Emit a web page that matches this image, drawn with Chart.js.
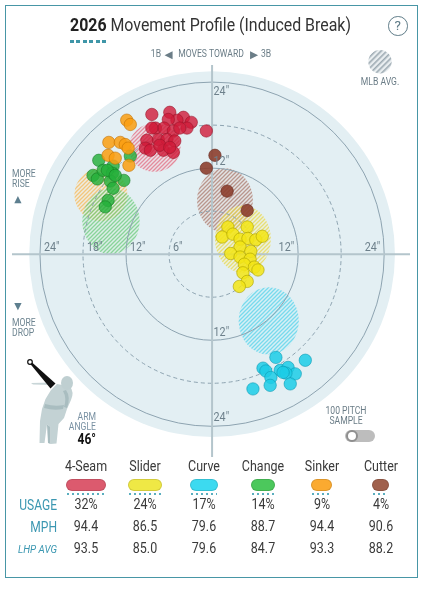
<!DOCTYPE html>
<html><head><meta charset="utf-8">
<script src="https://cdn.jsdelivr.net/npm/chart.js@4.4.1/dist/chart.umd.min.js"></script>
<style>
html,body{margin:0;padding:0;background:#fff;}
#wrap{position:relative;width:432px;height:600px;overflow:hidden;font-family:Roboto,"Noto Sans",sans-serif;}
#chartBox{position:absolute;left:0;top:0;width:432px;height:600px;}
.frame{position:absolute;left:4.5px;top:4.5px;width:413px;height:573px;border:1.5px solid #4896a6;box-sizing:border-box;}
.t{position:absolute;white-space:nowrap;}
.pill{position:absolute;height:12.5px;border-radius:7px;box-sizing:border-box;border:1px solid rgba(0,0,0,0.12);}
.dots{position:absolute;height:2px;background:repeating-linear-gradient(to right,#5aaebf 0 2px,transparent 2px 5px);}
</style></head><body>
<div id="wrap">
  <div id="chartBox"><canvas id="cv"></canvas></div>
  <svg style="position:absolute;left:0;top:350px;width:120px;height:100px" viewBox="0 350 120 100">
    <path d="M31,383 L53,382.5 L52,385 L33,384.5 Z" fill="#c9d6d8"/>
    <path d="M57,384 L70,386.5 Q74.5,392 71,400 L67,409 L64,418 L58.5,424 L56.5,443.5 L50.5,444 L50.5,427 L47,424.5 L44.5,443 L39.5,443 L40,421 L42,409 L45.5,399 L51,390 Z" fill="#c3d2d4"/>
    <path d="M45,404 Q55,407 64,405 L63,409 Q54,411 44,408 Z" fill="#a9bdc0"/>
    <path d="M66,390 Q71,397 67,408 L64,407 Q67,398 63,391 Z" fill="#a9bdc0"/>
    <path d="M47,424.5 L50.5,427 L50.5,444 L48,443 Z" fill="#a9bdc0"/>
    <ellipse cx="67" cy="383" rx="6" ry="7" fill="#bfcfd1"/>
    <path d="M29.3,362.7 L30.7,361.3 L55.5,383.6 L50.5,388.4 Z" fill="#111"/>
    <circle cx="30" cy="362" r="2.3" fill="#fff" stroke="#111" stroke-width="1.2"/>
  </svg>
  <svg style="position:absolute;left:366px;top:48px;width:28px;height:28px" viewBox="0 0 28 28">
    <defs><pattern id="mlbp" width="4" height="4" patternUnits="userSpaceOnUse" patternTransform="rotate(45)">
      <rect width="4" height="4" fill="#e9eef0"/><rect width="1.6" height="4" fill="#9eabb3"/></pattern></defs>
    <circle cx="14" cy="13.7" r="11.7" fill="url(#mlbp)"/>
  </svg>
  <div class="frame"></div>
  <div id="overlay"></div>
</div>
<script>
// ---------- data ----------
const pitchNames = ['4-Seam','Slider','Curve','Change','Sinker','Cutter'];
const usagePct   = [32, 24, 17, 14, 9, 4];
const mphValues  = [94.4, 86.5, 79.6, 88.7, 94.4, 90.6];
const lhpAvgMph  = [93.5, 85.0, 79.6, 84.7, 93.3, 88.2];
const pillColors = ['#dc5a6e','#efe845','#3cdaf0','#4cc85c','#fbaa30','#a0604c'];

// pitch locations (horizontal break, induced vertical break), inches
const fourSeamH = [-8.4,-5.9,-4.0,-2.9,-4.9,-6.1,-7.9,-6.7,-5.4,-3.5,-4.5,-0.8,-7.5,-6.3,-5.2,-9.1,-9.3,-8.6,-6.8,-5.4,-8.4,-7.3,-5.9];
const fourSeamV = [19.5,19.8,19.1,18.4,18.7,18.8,17.6,17.6,17.2,17.6,17.6,17.2,16.0,16.0,15.8,15.9,14.8,14.5,14.5,14.2,17.6,15.2,14.9];
const sliderH = [2.2,4.9,1.4,2.9,3.9,5.0,6.1,7.0,3.9,5.4,2.6,3.9,5.3,4.5,5.9,6.4,4.3,4.9,3.8];
const sliderV = [3.8,3.8,2.4,2.8,2.1,2.2,2.0,2.5,1.0,0.4,0.1,-0.4,-0.7,-1.4,-1.8,-2.2,-2.6,-3.8,-4.5];
const curveH = [8.9,13.0,7.1,7.5,9.5,10.6,11.6,10.3,8.2,8.1,10.9,5.7,9.9];
const curveV = [-14.4,-14.8,-15.9,-16.3,-16.2,-15.8,-16.7,-16.6,-17.2,-18.3,-18.1,-18.8,-16.5];
const changeH = [-15.8,-13.8,-11.4,-16.6,-16.0,-15.2,-13.9,-14.2,-12.3,-13.8,-14.5,-14.9,-14.6,-13.5];
const changeV = [13.1,12.3,13.7,11.0,10.5,11.7,11.3,10.2,10.3,9.2,7.5,6.6,11.7,11.0];
const sinkerH = [-11.9,-11.4,-14.4,-12.8,-12.1,-11.7,-14.5,-13.5,-11.6];
const sinkerV = [18.7,18.1,15.6,15.6,15.3,14.8,13.8,13.4,12.4];
const cutterH = [0.4,-0.8,2.1,4.9];
const cutterV = [13.8,12.0,8.8,6.1];

// MLB average movement (center and spread, inches) per pitch type
const mlbAvgH  = [-8.0, 4.3, 7.9, -14.1, -15.5, 1.8];
const mlbAvgV  = [14.9, 2.1, -9.3, 4.6, 8.3, 7.5];
const mlbSprH  = [3.6, 3.9, 4.2, 4.0, 3.7, 3.9];
const mlbSprV  = [3.4, 4.7, 4.7, 4.6, 3.7, 4.5];

const ringInches  = [6, 12, 18, 24];
const diskInches  = 25.5;
const tickLeft    = [24, 18, 12, 6];
const tickRight   = [12, 24];
const tickTop     = [24, 12];
const tickBottom  = [12, 24];

// ---------- styles ----------
const dotFill = ['rgba(208,26,56,0.8)','rgba(243,229,22,0.86)','rgba(28,204,230,0.85)','rgba(36,176,58,0.82)','rgba(250,158,18,0.86)','rgba(140,62,45,0.9)'];
const dotLine = ['rgba(150,20,40,0.55)','rgba(170,160,0,0.6)','rgba(10,150,175,0.55)','rgba(20,120,35,0.55)','rgba(190,110,0,0.55)','rgba(100,40,30,0.6)'];
const hatchRGB = ['220,70,95','225,205,30','40,200,230','70,190,90','245,165,40','150,85,70'];

function pts(h, v){ return h.map((x,i)=>({x:x, y:v[i]})); }
const series = [
  {i:0, d:pts(fourSeamH,fourSeamV), order:1},
  {i:4, d:pts(sinkerH,sinkerV), order:2},
  {i:3, d:pts(changeH,changeV), order:3},
  {i:5, d:pts(cutterH,cutterV), order:1},
  {i:1, d:pts(sliderH,sliderV), order:2},
  {i:2, d:pts(curveH,curveV), order:1}
];

function makeHatch(ctx, rgb){
  const s = 4, c = document.createElement('canvas');
  c.width = s; c.height = s;
  const g = c.getContext('2d');
  g.fillStyle = 'rgba(255,255,255,0.35)'; g.fillRect(0,0,s,s);
  g.fillStyle = 'rgba('+rgb+',0.10)'; g.fillRect(0,0,s,s);
  g.strokeStyle = 'rgba('+rgb+',0.55)'; g.lineWidth = 1.3;
  g.beginPath();
  g.moveTo(0,s); g.lineTo(s,0);
  g.moveTo(-1,1); g.lineTo(1,-1);
  g.moveTo(s-1,s+1); g.lineTo(s+1,s-1);
  g.stroke();
  return ctx.createPattern(c,'repeat');
}

function tickText(ctx, text, px, capY, align){
  const F = 12.5;
  ctx.save();
  ctx.font = F + 'px Roboto';
  ctx.fillStyle = '#6d808b';
  ctx.textBaseline = 'alphabetic';
  ctx.textAlign = align;
  ctx.translate(px, capY + 0.356*F);
  ctx.scale(0.86, 1);
  ctx.fillText(text, 0, 0);
  ctx.restore();
}

const ringPlugin = {
  id: 'rings',
  beforeDatasetsDraw(chart){
    const {ctx, chartArea:a} = chart, x = chart.scales.x, y = chart.scales.y;
    const cx = x.getPixelForValue(0), cy = y.getPixelForValue(0);
    const ppi = x.getPixelForValue(1) - cx;
    ctx.save();
    ctx.beginPath(); ctx.arc(cx, cy, diskInches*ppi, 0, Math.PI*2);
    ctx.fillStyle = '#e3eff3'; ctx.fill();
    [4,3,0,5,1,2].forEach(k=>{
      ctx.beginPath();
      ctx.ellipse(x.getPixelForValue(mlbAvgH[k]), y.getPixelForValue(mlbAvgV[k]), mlbSprH[k]*ppi, mlbSprV[k]*ppi, 0, 0, Math.PI*2);
      ctx.fillStyle = makeHatch(ctx, hatchRGB[k]); ctx.fill();
    });
    ctx.strokeStyle = '#8ea4b1'; ctx.lineWidth = 1;
    ringInches.forEach(r=>{
      ctx.setLineDash(r % 12 === 0 ? [] : [4,3]);
      ctx.beginPath(); ctx.arc(cx, cy, r*ppi, 0, Math.PI*2); ctx.stroke();
    });
    ctx.setLineDash([]);
    ctx.strokeStyle = '#b4c5cc'; ctx.lineWidth = 2;
    ctx.beginPath();
    ctx.moveTo(a.left, cy); ctx.lineTo(a.right, cy);
    ctx.moveTo(cx, a.top); ctx.lineTo(cx, a.bottom);
    ctx.stroke();
    ctx.restore();
  },
  afterDatasetsDraw(chart){
    const {ctx} = chart, x = chart.scales.x, y = chart.scales.y;
    const cx = x.getPixelForValue(0), cy = y.getPixelForValue(0);
    const ppi = x.getPixelForValue(1) - cx;
    tickLeft.forEach(r=> tickText(ctx, r+'"', cx - r*ppi + 4, cy - 8, 'left'));
    tickRight.forEach(r=> tickText(ctx, r+'"', cx + r*ppi - 4, cy - 8, 'right'));
    tickTop.forEach(r=> tickText(ctx, r+'"', cx + 1.5, r === 24 ? cy - r*ppi + 8.5 : cy - r*ppi - 8, 'left'));
    tickBottom.forEach(r=> tickText(ctx, r+'"', cx + 1.5, cy + r*ppi - (r === 24 ? 9.5 : 8.3), 'left'));
  }
};

new Chart(document.getElementById('cv'), {
  type: 'scatter',
  data: { datasets: series.map(s=>({
    label: pitchNames[s.i], data: s.d, order: s.order,
    backgroundColor: dotFill[s.i], borderColor: dotLine[s.i],
    pointRadius: 6.2, borderWidth: 1
  })) },
  options: {
    responsive: true, maintainAspectRatio: false, animation: false, events: [],
    layout: { padding: { left: 12, right: 22, top: 65, bottom: 143 } },
    plugins: { legend: { display: false }, tooltip: { enabled: false } },
    scales: {
      x: { type: 'linear', min: -27.9, max: 27.6, display: false },
      y: { type: 'linear', min: -28.3, max: 26.4, display: false }
    }
  },
  plugins: [ringPlugin]
});

// ---------- HTML text ----------
const overlay = document.getElementById('overlay');
function addText(html, x, yc, size, align, st){
  const d = document.createElement('div');
  d.className = 't';
  d.innerHTML = html;
  d.style.fontSize = size + 'px';
  d.style.lineHeight = size + 'px';
  d.style.top = (yc - 0.486*size) + 'px';
  d.style.left = x + 'px';
  const sx = (st && st.sx) || 0.86;
  if (align === 'center'){ d.style.transformOrigin = '50% 50%'; d.style.transform = 'translateX(-50%) scaleX('+sx+')'; }
  else if (align === 'right'){ d.style.transformOrigin = '100% 50%'; d.style.transform = 'translateX(-100%) scaleX('+sx+')'; }
  else { d.style.transformOrigin = '0 50%'; d.style.transform = 'scaleX('+sx+')'; }
  if (st) for (const k in st) if (k !== 'sx') d.style[k] = st[k];
  overlay.appendChild(d);
  return d;
}
function addBox(cls, l, t, w, h, st){
  const d = document.createElement('div');
  d.className = cls; d.style.left = l+'px'; d.style.top = t+'px'; d.style.width = w+'px'; if (h) d.style.height = h+'px';
  if (st) Object.assign(d.style, st);
  overlay.appendChild(d); return d;
}

const gray = '#6b7d87';
addText('<b style="color:#222">2026</b> Movement Profile (Induced Break)', 70, 25, 18.5, 'left', {color:'#333'});
addBox('t', 70, 40, 36, 3, {background:'repeating-linear-gradient(to right,#3f96a8 0 4px,transparent 4px 6.4px)'});
addBox('t', 388, 16.3, 19.5, 19.5, {border:'1.8px solid #5e7b87', borderRadius:'50%', boxSizing:'border-box'});
addText('?', 397.7, 25.8, 13.5, 'center', {color:'#5e7b87', sx:1});

addText('1B', 160.7, 54.3, 10, 'right', {color:gray});
addText('◀', 168.5, 54.6, 10.5, 'center', {color:gray, fontFamily:'"DejaVu Sans"', sx:1});
addText('MOVES TOWARD', 211.2, 54.3, 10, 'center', {color:gray});
addText('▶', 254, 54.6, 10.5, 'center', {color:gray, fontFamily:'"DejaVu Sans"', sx:1});
addText('3B', 261, 54.3, 10, 'left', {color:gray});
addText('MLB AVG.', 380, 82.3, 10, 'center', {color:gray});

const sideCol = '#6e8591';
addText('MORE', 12.3, 174, 10, 'left', {color:sideCol});
addText('RISE', 12.3, 183.5, 10, 'left', {color:sideCol});
addText('▲', 18, 198.3, 9.5, 'center', {color:'#5e7f8f', fontFamily:'"DejaVu Sans"', sx:1});
addText('▼', 18, 305.7, 9.5, 'center', {color:'#5e7f8f', fontFamily:'"DejaVu Sans"', sx:1});
addText('MORE', 12.3, 322.7, 10, 'left', {color:sideCol});
addText('DROP', 12.3, 332.7, 10, 'left', {color:sideCol});

addText('ARM', 95.5, 417, 10, 'right', {color:'#7890a2'});
addText('ANGLE', 96, 427.3, 10, 'right', {color:'#7890a2'});
addText('46°', 95.5, 439, 14, 'right', {color:'#111', fontWeight:'700'});

addText('100 PITCH', 345.5, 410.7, 10, 'center', {color:gray});
addText('SAMPLE', 345.5, 421, 10, 'center', {color:gray});
addBox('t', 345, 430.3, 30, 11.5, {background:'#bdbdbd', borderRadius:'6px'});
addBox('t', 346.3, 430, 12, 12, {background:'#fff', border:'2px solid #8f8f8f', borderRadius:'50%', boxSizing:'border-box'});

// table
const colX = [86, 145, 204, 263, 321.5, 380.5];
const valCol = '#3a3a3a', rowCol = '#3b97b1';
pitchNames.forEach((n,i)=>{
  addText(n, colX[i], 466.7, 14.5, 'center', {color:valCol});
  const w = 12.7 + 0.85*usagePct[i];
  addBox('pill', colX[i]-w/2, 478.5, w, 0, {background:pillColors[i]});
  addBox('dots', colX[i]-w/2+1, 493, w-2, 0);
  addText(usagePct[i]+'%', colX[i], 505, 14.5, 'center', {color:valCol});
  addText(mphValues[i].toFixed(1), colX[i], 527.3, 14.5, 'center', {color:valCol});
  addText(lhpAvgMph[i].toFixed(1), colX[i], 549.3, 14.5, 'center', {color:valCol});
});
addText('USAGE', 56.7, 505, 14, 'right', {color:rowCol});
addText('MPH', 56.7, 527.3, 14, 'right', {color:rowCol});
addText('LHP AVG', 56.7, 549.3, 11.5, 'right', {color:rowCol, fontStyle:'italic'});
</script>
</body></html>
